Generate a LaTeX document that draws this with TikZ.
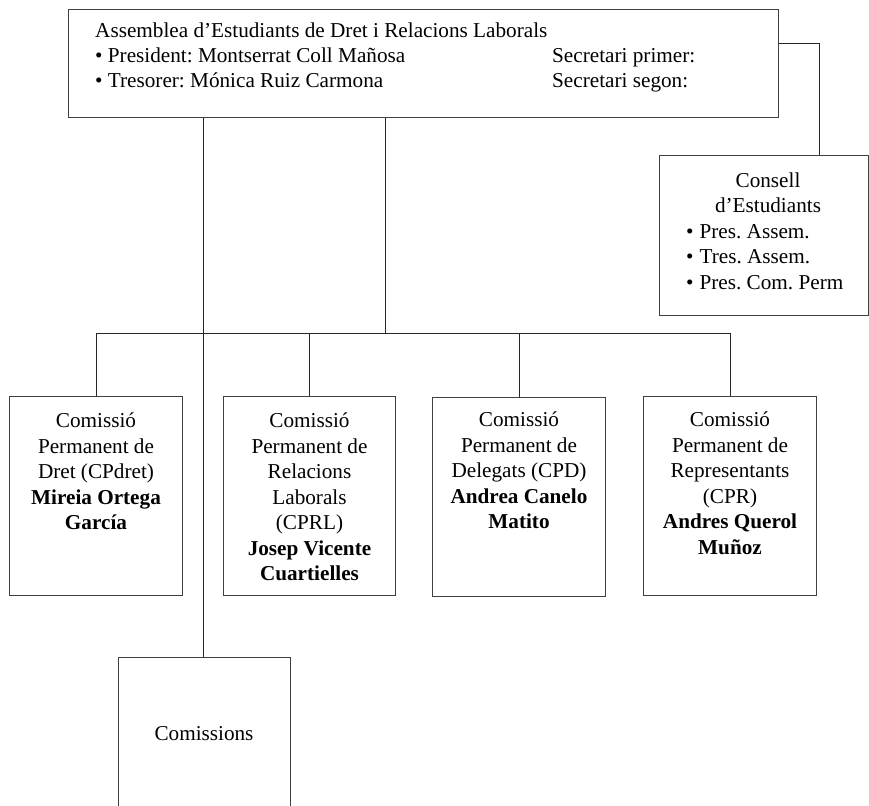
\documentclass[tikz,border=0pt]{standalone}
\usepackage{fontspec}
\setmainfont{Liberation Serif}
\frenchspacing
\begin{document}
\begin{tikzpicture}[x=1pt,y=-1pt,
  box/.style={draw=black!75, line width=1pt, inner sep=0pt, anchor=north west},
  txt/.style={inner sep=0pt, font=\fontsize{21.2}{25.5}\selectfont},
  ctxt/.style={txt, align=center, anchor=north},
  link/.style={draw=black!85, line width=1pt}]
\useasboundingbox (0,0) rectangle (869,805);
% top box
\node[box, minimum width=710pt, minimum height=108pt] (asm) at (68,9) {};
\node[txt, anchor=base west] (a1) at (95,38) {Assemblea d’Estudiants de Dret i Relacions Laborals};
\node[txt, anchor=base west] (a2) at (95,63) {• President: Montserrat Coll Mañosa};
\node[txt, anchor=base west] (a3) at (95,88) {• Tresorer: Mónica Ruiz Carmona};
\node[txt, anchor=base west] (a4) at (552,63) {Secretari primer:};
\node[txt, anchor=base west] (a5) at (552,88) {Secretari segon:};
% consell
\node[box, minimum width=209pt, minimum height=160pt] (cons) at (659,155) {};
\node[txt, anchor=base] (k1) at (768,187) {Consell};
\node[txt, anchor=base] (k2) at (768,212) {d’Estudiants};
\node[txt, anchor=base west] (k3) at (686,238) {•\hspace{6pt}Pres. Assem.};
\node[txt, anchor=base west] (k4) at (686,263) {•\hspace{6pt}Tres. Assem.};
\node[txt, anchor=base west] (k5) at (686,289) {•\hspace{6pt}Pres. Com. Perm};
% commissions permanents
\node[box, minimum width=173pt, minimum height=199pt] (c1) at (9,396) {};
\node[box, minimum width=172pt, minimum height=199pt] (c2) at (223,396) {};
\node[box, minimum width=173pt, minimum height=199pt] (c3) at (432,397) {};
\node[box, minimum width=173pt, minimum height=199pt] (c4) at (643,396) {};
\node[ctxt] (t1) at (c1.north |- 0,413) {Comissió\\Permanent de\\Dret (CPdret)\\\textbf{Mireia Ortega}\\\textbf{García}};
\node[ctxt] (t2) at (c2.north |- 0,413) {Comissió\\Permanent de\\Relacions\\Laborals\\(CPRL)\\\textbf{Josep Vicente}\\\textbf{Cuartielles}};
\node[ctxt] (t3) at (c3.north |- 0,412) {Comissió\\Permanent de\\Delegats (CPD)\\\textbf{Andrea Canelo}\\\textbf{Matito}};
\node[ctxt] (t4) at (c4.north |- 0,412) {Comissió\\Permanent de\\Representants\\(CPR)\\\textbf{Andres Querol}\\\textbf{Muñoz}};
% comissions (open at bottom)
\coordinate (cl) at (118,810);
\coordinate (cr) at (290,810);
\coordinate (ctop) at (203,657);
\draw[draw=black!75, line width=1pt] (cl) -- (118,657) -- (290,657) -- (cr);
\node[txt, anchor=base] (com) at (204,740) {Comissions};
% connectors
\coordinate (bus) at (385,333);
\draw[link] (asm.south -| bus) -- (bus);
\draw[link] (c1.north |- bus) -- (c4.north |- bus);
\draw[link] (c1.north |- bus) -- (c1.north);
\draw[link] (c2.north |- bus) -- (c2.north);
\draw[link] (c3.north |- bus) -- (c3.north);
\draw[link] (c4.north |- bus) -- (c4.north);
\draw[link] (asm.south -| ctop) -- (ctop);
\draw[link] (asm.east |- 0,44) -| (cons.north -| 819,0);
\end{tikzpicture}
\end{document}
